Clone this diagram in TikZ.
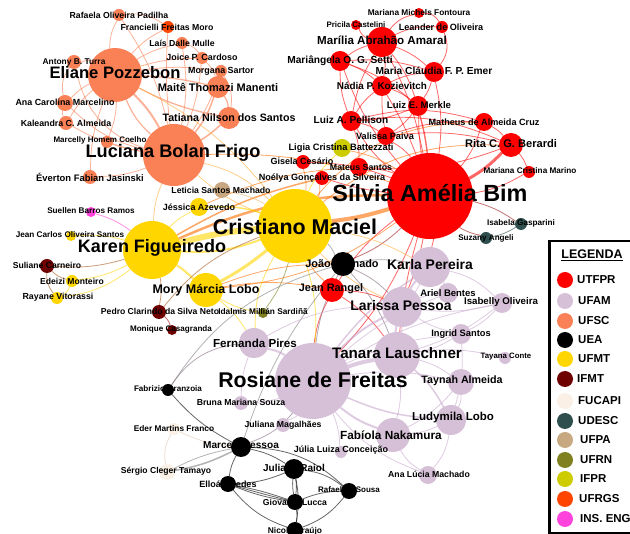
\documentclass[tikz,border=0pt]{standalone}
\usepackage{fontspec}
\setmainfont{Liberation Sans}
\pgfdeclarelayer{edgelayer}
\pgfsetlayers{edgelayer,main}
\definecolor{cUTFPR}{RGB}{255,0,0}
\definecolor{cUFAM}{RGB}{214,192,216}
\definecolor{cUFSC}{RGB}{250,128,86}
\definecolor{cUEA}{RGB}{0,0,0}
\definecolor{cUFMT}{RGB}{255,214,0}
\definecolor{cIFMT}{RGB}{110,0,0}
\definecolor{cFUCAPI}{RGB}{250,240,230}
\definecolor{cUDESC}{RGB}{47,79,79}
\definecolor{cUFPA}{RGB}{200,168,128}
\definecolor{cUFRN}{RGB}{128,128,32}
\definecolor{cIFPR}{RGB}{204,204,0}
\definecolor{cUFRGS}{RGB}{255,69,0}
\definecolor{cINS}{RGB}{255,68,221}
\definecolor{eOrange}{RGB}{255,110,0}
\definecolor{eYO}{RGB}{255,175,60}
\definecolor{ePurple}{RGB}{200,168,206}
\definecolor{eBrown}{RGB}{170,90,30}
\definecolor{eDark}{RGB}{160,20,20}
\definecolor{eGrayP}{RGB}{130,110,130}
\definecolor{eLin}{RGB}{225,200,180}
\definecolor{eTan}{RGB}{230,180,100}
\newcommand\gnode[5]{\node[nd=#5, minimum size=#4*2] (#1) at (#2,#3) {};}
\newcommand\glab[5]{\node[lab=#4] (#1-l) at (#2,#3) {#5};}
\tikzset{
 nd/.style={circle, fill=#1, draw=none, inner sep=0pt, outer sep=0pt},
 lab/.style={font=\bfseries\fontsize{#1}{#1}\selectfont, inner sep=0pt, text=black},
 ed/.style={line width=0.8pt, draw opacity=0.6},
 eR/.style={ed, draw=cUTFPR},
 eO/.style={ed, draw=eOrange},
 eY/.style={ed, draw=cUFMT},
 eYO/.style={ed, draw=eYO},
 eC/.style={ed, draw=cUFSC},
 eP/.style={ed, draw=ePurple},
 eK/.style={ed, draw=black},
 eB/.style={ed, draw=eBrown},
 eD/.style={ed, draw=eDark},
 eG/.style={ed, draw=eGrayP},
 legc/.style={circle, inner sep=0pt, minimum size=16pt, fill=#1},
 legt/.style={anchor=west, inner sep=0pt, font=\bfseries\fontsize{11.5}{11.5}\selectfont},
}
\begin{document}
\begin{tikzpicture}[x=1pt,y=-1pt]
\useasboundingbox (0,0) rectangle (630,534);
% ---------- nodes ----------
\gnode{rafaela}{119}{15}{6}{cUFSC}
\gnode{francielli}{168}{27}{6}{cUFRGS}
\gnode{lais}{182}{43}{6}{cUFSC}
\gnode{antony}{74}{62}{7}{cUFSC}
\gnode{joice}{202}{58}{6}{cUFSC}
\gnode{eliane}{115}{75}{27}{cUFSC}
\gnode{morgana}{221}{71}{6}{cUFSC}
\gnode{maite}{218}{87}{11}{cUFSC}
\gnode{anacarol}{65}{103}{8}{cUFSC}
\gnode{kaleandra}{66}{123}{7}{cUFSC}
\gnode{tatiana}{229}{118}{11}{cUFSC}
\gnode{marcelly}{107}{142}{6}{cUFSC}
\gnode{luciana}{174}{155}{31}{cUFSC}
\gnode{everton}{90}{177}{7}{cUFSC}
\gnode{marianam}{419}{13}{5}{cUTFPR}
\gnode{pricila}{356}{25}{5}{cUTFPR}
\gnode{leander}{442}{27}{6}{cUTFPR}
\gnode{marilia}{382}{42}{15}{cUTFPR}
\gnode{mariangela}{340}{61}{10}{cUTFPR}
\gnode{mclaudia}{434}{72}{10}{cUTFPR}
\gnode{nadia}{382}{86}{10}{cUTFPR}
\gnode{luize}{418}{106}{10}{cUTFPR}
\gnode{luiza}{351}{121}{10}{cUTFPR}
\gnode{matheus}{484}{122}{9}{cUTFPR}
\gnode{valissa}{386}{136}{9}{cUTFPR}
\gnode{rita}{511}{145}{12}{cUTFPR}
\gnode{ligia}{342}{148}{9}{cIFPR}
\gnode{gisela}{303}{162}{7}{cUTFPR}
\gnode{mateus}{359}{167}{9}{cUTFPR}
\gnode{noelya}{322}{178}{7}{cUTFPR}
\gnode{marianac}{529}{172}{6}{cUTFPR}
\gnode{silvia}{430}{196}{43}{cUTFPR}
\gnode{jeanr}{332}{290}{12}{cUTFPR}
\gnode{isabela}{521}{224}{6}{cUDESC}
\gnode{suzany}{486}{238}{6}{cUDESC}
\gnode{cristiano}{295}{226}{37}{cUFMT}
\gnode{karen}{152}{250}{29}{cUFMT}
\gnode{jessica}{199}{207}{9}{cUFMT}
\gnode{jeanc}{71}{236}{5}{cUFMT}
\gnode{edeizi}{72}{281}{6}{cUFMT}
\gnode{rayane}{57}{298}{6}{cUFMT}
\gnode{mory}{206}{290}{17}{cUFMT}
\gnode{suliane}{47}{266}{7}{cIFMT}
\gnode{pedro}{159}{312}{7}{cIFMT}
\gnode{monique}{172}{330}{5}{cIFMT}
\gnode{suellen}{91}{212}{5}{cINS}
\gnode{leticia}{222}{190}{8}{cUFPA}
\gnode{idalmis}{263}{313}{5}{cUFRN}
\gnode{joao}{343}{264}{12}{cUEA}
\gnode{fabrizio}{168}{390}{6}{cUEA}
\gnode{marcela}{241}{447}{10}{cUEA}
\gnode{juliar}{294}{469}{10}{cUEA}
\gnode{elloa}{228}{484}{8}{cUEA}
\gnode{giova}{295}{502}{8}{cUEA}
\gnode{rafaels}{349}{491}{8}{cUEA}
\gnode{nico}{295}{530}{8}{cUEA}
\gnode{eder}{174}{429}{6}{cFUCAPI}
\gnode{sergio}{167}{472}{8}{cFUCAPI}
\gnode{karla}{430}{267}{20}{cUFAM}
\gnode{ariel}{448}{293}{10}{cUFAM}
\gnode{isabelly}{502}{303}{10}{cUFAM}
\gnode{larissa}{402}{307}{20}{cUFAM}
\gnode{ingrid}{461}{334}{10}{cUFAM}
\gnode{tanara}{397}{355}{23}{cUFAM}
\gnode{tayana}{505}{358}{6}{cUFAM}
\gnode{rosiane}{313}{381}{38}{cUFAM}
\gnode{taynah}{461}{382}{13}{cUFAM}
\gnode{fernanda}{254}{343}{15}{cUFAM}
\gnode{bruna}{241}{403}{7}{cUFAM}
\gnode{julianam}{283}{425}{7}{cUFAM}
\gnode{julialc}{341}{452}{6}{cUFAM}
\gnode{fabiola}{393}{435}{17}{cUFAM}
\gnode{ludymila}{451}{420}{15}{cUFAM}
\gnode{analucia}{428}{475}{9}{cUFAM}
% ---------- edges ----------
\begin{pgfonlayer}{edgelayer}
\fill[white] (0,0) rectangle (630,534);
% UFSC
\draw[eC, line width=2pt] (eliane) to[bend left=8] (luciana);
\draw[eC, line width=1.2pt] (eliane) to[bend right=12] (luciana);
\draw[eC] (eliane) to[bend left=15] (rafaela);
\draw[eC] (eliane) to[bend left=10] (francielli);
\draw[eC] (eliane) to[bend left=10] (lais);
\draw[eC] (eliane) to[bend left=8] (joice);
\draw[eC] (eliane) to[bend left=8] (morgana);
\draw[eC, line width=1.3pt] (eliane) to[bend left=5] (maite);
\draw[eC, line width=1.3pt] (eliane) to[bend right=8] (tatiana);
\draw[eC] (eliane) to[bend right=15] (antony);
\draw[eC] (eliane) to[bend right=10] (anacarol);
\draw[eC] (eliane) to[bend right=10] (kaleandra);
\draw[eC] (eliane) to[bend left=10] (marcelly);
\draw[eC] (eliane) to[bend right=10] (everton);
\draw[eC] (luciana) to[bend right=10] (rafaela);
\draw[eC] (luciana) to[bend left=5] (francielli);
\draw[eC] (luciana) to[bend right=10] (lais);
\draw[eC] (luciana) to[bend right=8] (joice);
\draw[eC] (luciana) to[bend right=8] (morgana);
\draw[eC, line width=1.6pt] (luciana) to[bend right=10] (maite);
\draw[eC, line width=1.6pt] (luciana) to[bend right=5] (tatiana);
\draw[eC] (luciana) to[bend left=30] (antony);
\draw[eC] (luciana) to[bend left=15] (anacarol);
\draw[eC] (luciana) to[bend left=10] (kaleandra);
\draw[eC] (luciana) to[bend left=5] (marcelly);
\draw[eC] (luciana) to[bend left=10] (everton);
\draw[eC, line width=1.3pt] (maite) to[bend left=15] (tatiana);
\draw[eC] (maite) to[bend left=20] (morgana);
\draw[eC] (maite) to[bend right=15] (joice);
\draw[eC] (tatiana) to[bend right=20] (morgana);
\draw[eC] (antony) to[bend right=25] (anacarol);
\draw[eC] (anacarol) to[bend right=20] (kaleandra);
\draw[eC] (rafaela) to[bend left=20] (francielli);
\draw[eC] (lais) to[bend left=20] (joice);
\draw[eO] (luciana) to[bend left=10] (silvia);
\draw[eYO] (luciana) to[bend left=15] (cristiano);
\draw[eYO] (luciana) to[bend right=10] (cristiano);
\draw[eYO] (luciana) to[bend right=10] (karen);
\draw[eYO] (eliane) to[bend left=12] (cristiano);
% UTFPR
\draw[eR] (marilia) to[bend left=20] (pricila);
\draw[eR] (marilia) to[bend left=20] (marianam);
\draw[eR] (marilia) to[bend left=15] (leander);
\draw[eR] (marianam) to[bend left=30] (leander);
\draw[eR] (marilia) to[bend right=10] (mariangela);
\draw[eR] (marilia) to[bend left=10] (nadia);
\draw[eR] (marilia) to[bend left=10] (mclaudia);
\draw[eR] (marilia) to[bend left=10] (luize);
\draw[eR] (marilia) to[bend right=10] (luiza);
\draw[eR] (marilia) to[bend left=8] (silvia);
\draw[eR] (mariangela) to[bend left=10] (nadia);
\draw[eR] (mariangela) to[bend right=10] (luiza);
\draw[eR] (mariangela) to[bend left=10] (mclaudia);
\draw[eR] (mariangela) to[bend left=10] (luize);
\draw[eR] (mariangela) to[bend right=10] (silvia);
\draw[eR] (nadia) to[bend left=10] (mclaudia);
\draw[eR] (nadia) to[bend left=10] (luize);
\draw[eR] (nadia) to[bend right=10] (luiza);
\draw[eR] (nadia) to[bend left=5] (silvia);
\draw[eR] (nadia) to[bend right=5] (valissa);
\draw[eR] (mclaudia) to[bend left=10] (luize);
\draw[eR] (mclaudia) to[bend right=30] (leander);
\draw[eR] (mclaudia) to[bend left=10] (silvia);
\draw[eR] (luize) to[bend left=10] (luiza);
\draw[eR, line width=1.4pt] (luize) to[bend left=4] (silvia);
\draw[eR] (luize) to[bend right=4] (silvia);
\draw[eR] (luize) to[bend left=10] (valissa);
\draw[eR] (luiza) to[bend right=10] (silvia);
\draw[eR] (luiza) to[bend left=10] (valissa);
\draw[eR] (luiza) to[bend left=10] (mateus);
\draw[eR] (matheus) to[bend left=10] (silvia);
\draw[eR] (matheus) to[bend left=10] (rita);
\draw[eR] (matheus) to[bend right=10] (valissa);
\draw[eR] (matheus) to[bend right=15] (luiza);
\draw[eR, line width=3pt] (rita) to[bend left=8] (silvia);
\draw[eR] (rita) to[bend left=10] (marianac);
\draw[eR] (rita) to[bend right=10] (valissa);
\draw[eR] (rita) to[bend left=12] (mateus);
\draw[eR] (rita) to[bend right=15] (luiza);
\draw[eR] (marianac) to[bend left=10] (silvia);
\draw[eR] (valissa) to[bend left=10] (silvia);
\draw[eR] (mateus) to[bend left=10] (silvia);
\draw[eR] (gisela) to[bend left=10] (silvia);
\draw[eR] (noelya) to[bend right=5] (silvia);
\draw[eO] (ligia) to[bend left=10] (silvia);
\draw[eD] (silvia) to[bend left=10] (isabela);
\draw[eD] (silvia) to[bend right=10] (suzany);
\draw[ed, draw=cUDESC] (isabela) to[bend left=10] (suzany);
\draw[eR] (silvia) to[bend left=5] (karla);
\draw[eR] (silvia) to[bend left=5] (larissa);
\draw[eR] (silvia) to[bend right=10] (jeanr);
\draw[eD] (silvia) to[bend left=10] (joao);
\draw[eR] (silvia) to[bend right=5] (tanara);
\draw[eR] (silvia) to[bend left=10] (rosiane);
\draw[eR] (jeanr) to[bend right=10] (rosiane);
\draw[eR] (jeanr) to[bend left=10] (tanara);
\draw[eR] (jeanr) to[bend left=10] (larissa);
% UTFPR-UFMT
\draw[eO, line width=4pt] (silvia) to[bend left=5] (cristiano);
\draw[eO, line width=2.5pt] (silvia) to[bend right=12] (karen);
\draw[eO] (silvia) to[bend left=15] (mory);
\draw[eO] (matheus) to[bend right=25] (cristiano);
\draw[eO] (rita) to[bend right=20] (cristiano);
\draw[eO, line width=1.5pt] (noelya) to[bend right=8] (karen);
\draw[eO] (gisela) to[bend left=10] (cristiano);
\draw[eO] (noelya) to[bend left=10] (cristiano);
\draw[eY] (ligia) to[bend right=10] (cristiano);
\draw[eO] (jeanr) to[bend left=10] (cristiano);
\draw[eO] (jeanr) to[bend right=10] (mory);
\draw[eO] (mateus) to[bend right=10] (jessica);
% UFMT
\draw[eY, line width=6pt] (cristiano) to[bend right=5] (karen);
\draw[eY, line width=2pt] (cristiano) to[bend left=12] (karen);
\draw[eY, line width=3pt] (cristiano) to[bend left=5] (mory);
\draw[eY, line width=1.5pt] (cristiano) to[bend right=10] (jessica);
\draw[eY] (karen) to[bend left=10] (jessica);
\draw[ed, draw=eTan] (cristiano) to[bend right=10] (leticia);
\draw[eY] (karen) to[bend right=10] (jeanc);
\draw[eY] (karen) to[bend left=10] (edeizi);
\draw[eY] (karen) to[bend left=15] (rayane);
\draw[eB] (karen) to[bend left=10] (suliane);
\draw[ed, draw=cINS] (karen) to[bend right=10] (suellen);
\draw[eY, line width=2pt] (karen) to[bend left=5] (mory);
\draw[eB] (karen) to[bend left=10] (pedro);
\draw[eD] (pedro) to[bend left=15] (monique);
\draw[eB] (pedro) to[bend left=15] (cristiano);
\draw[eB] (suliane) to[bend right=15] (edeizi);
\draw[eB] (suliane) to[bend right=20] (rayane);
\draw[eY] (edeizi) to[bend left=20] (rayane);
\draw[ed, draw=cUFRN] (cristiano) to[bend left=10] (idalmis);
\draw[eY] (cristiano) to[bend right=15] (fernanda);
\draw[eY] (mory) to[bend left=10] (fernanda);
\draw[eY] (cristiano) to[bend left=10] (rosiane);
\draw[eYO] (cristiano) to[bend left=10] (karla);
\draw[eYO] (cristiano) to[bend right=10] (larissa);
\draw[ed, draw=gray] (cristiano) to[bend left=10] (joao);
\draw[eO] (mory) to[bend left=10] (joao);
\draw[eY] (mory) to[bend right=10] (idalmis);
\draw[ed, draw=gray] (joao) to[bend right=20] (fabrizio);
\draw[ed, draw=gray] (joao) to[bend right=10] (marcela);
\draw[eG] (joao) to[bend right=10] (rosiane);
\draw[eG] (joao) to[bend left=10] (larissa);
\draw[eG] (joao) to[bend left=10] (karla);
\draw[eG] (joao) to[bend left=10] (tanara);
% UFAM
\draw[eP, line width=4pt] (rosiane) to[bend left=5] (tanara);
\draw[eP, line width=2pt] (rosiane) to[bend left=10] (larissa);
\draw[eP, line width=1.5pt] (rosiane) to[bend left=10] (karla);
\draw[eP, line width=2pt] (rosiane) to[bend right=10] (fernanda);
\draw[eP, line width=2pt] (rosiane) to[bend right=10] (fabiola);
\draw[eP, line width=1.5pt] (rosiane) to[bend right=10] (ludymila);
\draw[eP] (rosiane) to[bend left=10] (taynah);
\draw[eP] (rosiane) to[bend left=10] (bruna);
\draw[eP] (rosiane) to[bend left=10] (julianam);
\draw[eP] (rosiane) to[bend left=10] (julialc);
\draw[eP] (rosiane) to[bend right=15] (analucia);
\draw[eP] (rosiane) to[bend left=10] (ingrid);
\draw[eP] (rosiane) to[bend left=10] (ariel);
\draw[eP] (rosiane) to[bend left=10] (isabelly);
\draw[eP, line width=2pt] (tanara) to[bend left=10] (larissa);
\draw[eP] (tanara) to[bend left=10] (karla);
\draw[eP] (tanara) to[bend left=10] (fabiola);
\draw[eP, line width=1.5pt] (tanara) to[bend left=10] (ludymila);
\draw[eP] (tanara) to[bend left=10] (taynah);
\draw[eP] (tanara) to[bend right=10] (ingrid);
\draw[eP] (tanara) to[bend left=10] (tayana);
\draw[eP] (tanara) to[bend right=10] (isabelly);
\draw[eP, line width=2pt] (larissa) to[bend left=10] (karla);
\draw[eP] (larissa) to[bend left=10] (ariel);
\draw[eP] (larissa) to[bend right=10] (isabelly);
\draw[eP] (larissa) to[bend right=10] (ingrid);
\draw[eP] (larissa) to[bend right=15] (fernanda);
\draw[eP] (karla) to[bend left=10] (ariel);
\draw[eP] (karla) to[bend left=15] (isabelly);
\draw[eP] (ludymila) to[bend right=15] (taynah);
\draw[eP] (ludymila) to[bend left=10] (fabiola);
\draw[eP] (ludymila) to[bend left=15] (analucia);
\draw[eP] (fabiola) to[bend right=15] (analucia);
\draw[eP] (fabiola) to[bend right=10] (taynah);
\draw[eP] (ingrid) to[bend right=10] (isabelly);
\draw[eP] (ingrid) to[bend left=10] (ludymila);
\draw[eP] (fernanda) to[bend right=10] (bruna);
\draw[eG] (rosiane) to[bend left=15] (marcela);
\draw[eG] (fabrizio) to[bend left=25] (fernanda);
% UEA
\draw[eK] (marcela) to[bend left=10] (fabrizio);
\draw[ed, draw=eLin] (marcela) to[bend left=10] (eder);
\draw[ed, draw=gray, line width=1.5pt] (marcela) to[bend left=8] (sergio);
\draw[ed, draw=gray] (marcela) to[bend right=8] (sergio);
\draw[eK] (marcela) to[bend left=10] (juliar);
\draw[eK] (marcela) to[bend right=10] (elloa);
\draw[eK] (marcela) to[bend left=20] (rafaels);
\draw[eK] (juliar) to[bend left=10] (elloa);
\draw[eK] (juliar) to[bend left=8] (giova);
\draw[eK] (juliar) to[bend right=8] (giova);
\draw[eK] (juliar) to[bend left=15] (rafaels);
\draw[eK] (juliar) to[bend left=10] (nico);
\draw[eK] (elloa) to[bend left=4] (giova);
\draw[eK] (elloa) to[bend right=6] (giova);
\draw[eK] (elloa) to[bend right=1] (giova);
\draw[eK] (elloa) to[bend right=15] (nico);
\draw[eK] (giova) to[bend left=10] (rafaels);
\draw[eK] (giova) to[bend left=10] (nico);
\draw[eK] (rafaels) to[bend left=15] (nico);
\draw[ed, draw=eLin] (eder) to[bend right=20] (sergio);
\end{pgfonlayer}
% ---------- labels ----------
\glab{rafaela}{119}{15}{8.7}{Rafaela Oliveira Padilha}
\glab{francielli}{167}{27}{8.7}{Francielli Freitas Moro}
\glab{lais}{182}{43}{8.7}{Laís Dalle Mulle}
\glab{antony}{74}{62}{8.4}{Antony B. Turra}
\glab{joice}{202}{57}{8.9}{Joice P. Cardoso}
\glab{eliane}{115}{73}{16.6}{Eliane Pozzebon}
\glab{morgana}{221}{71}{8.9}{Morgana Sartor}
\glab{maite}{218}{87}{11}{Maitê Thomazi Manenti}
\glab{anacarol}{65}{102}{8.9}{Ana Carolina Marcelino}
\glab{kaleandra}{66}{123}{8.8}{Kaleandra C. Almeida}
\glab{tatiana}{229}{118}{10.7}{Tatiana Nilson dos Santos}
\glab{marcelly}{100}{140}{8}{Marcelly Homem Coelho}
\glab{luciana}{173}{153}{18.2}{Luciana Bolan Frigo}
\glab{everton}{90}{177}{9.4}{Éverton Fabian Jasinski}
\glab{marianam}{419}{13}{8.3}{Mariana Michels Fontoura}
\glab{pricila}{356}{25}{7.9}{Pricila Castelini}
\glab{leander}{441}{27}{9.1}{Leander de Oliveira}
\glab{marilia}{382}{40}{11.6}{Marília Abrahão Amaral}
\glab{mariangela}{340}{61}{10.2}{Mariângela O. G. Setti}
\glab{mclaudia}{434}{71}{10.2}{Maria Cláudia F. P. Emer}
\glab{nadia}{382}{86}{9.9}{Nádia P. Kozievitch}
\glab{luize}{419}{105}{9.6}{Luiz E. Merkle}
\glab{luiza}{351}{120}{10.1}{Luiz A. Pellison}
\glab{matheus}{484}{122}{9.1}{Matheus de Almeida Cruz}
\glab{valissa}{385}{136}{9.2}{Valissa Paiva}
\glab{rita}{511}{144}{11.1}{Rita C. G. Berardi}
\glab{ligia}{341}{148}{9.3}{Ligia Cristina Battezzati}
\glab{gisela}{302}{161}{9}{Gisela Cesário}
\glab{mateus}{361}{167}{8.8}{Mateus Santos}
\glab{noelya}{322}{178}{9.1}{Noélya Gonçalves da Silveira}
\glab{marianac}{530}{171}{8.2}{Mariana Cristina Marino}
\glab{silvia}{430}{193}{23.4}{Sílvia Amélia Bim}
\glab{jeanr}{331}{289}{10.9}{Jean Rangel}
\glab{isabela}{521}{223}{8.2}{Isabela Gasparini}
\glab{suzany}{486}{238}{8.1}{Suzany Angeli}
\glab{cristiano}{295}{227}{21.4}{Cristiano Maciel}
\glab{karen}{152}{248}{18}{Karen Figueiredo}
\glab{jessica}{199}{207}{9}{Jéssica Azevedo}
\glab{jeanc}{70}{235}{8.2}{Jean Carlos Oliveira Santos}
\glab{edeizi}{72}{281}{8.6}{Edeizi Monteiro}
\glab{rayane}{58}{297}{8.8}{Rayane Vitorassi}
\glab{mory}{206}{290}{12.5}{Mory Márcia Lobo}
\glab{suliane}{47}{265}{8.6}{Suliane Carneiro}
\glab{pedro}{160}{311}{8.6}{Pedro Clarindo da Silva Neto}
\glab{monique}{171}{329}{8.1}{Monique Casagranda}
\glab{suellen}{91}{211}{8.2}{Suellen Barros Ramos}
\glab{leticia}{221}{190}{8.7}{Leticia Santos Machado}
\glab{idalmis}{263}{311}{8.3}{Idalmis Millián Sardiñã}
\glab{joao}{342}{264}{10.9}{João Granado}
\glab{fabrizio}{168}{389}{8.1}{Fabrizio Granzoia}
\glab{marcela}{241}{445}{10.1}{Marcela Pessoa}
\glab{juliar}{294}{468}{10}{Juliana Raiol}
\glab{elloa}{228}{484}{9}{Elloá Guedes}
\glab{giova}{295}{502}{8.6}{Giovanni Lucca}
\glab{rafaels}{349}{490}{8}{Rafael de Sousa}
\glab{nico}{295}{531}{8.4}{Nicole Araújo}
\glab{eder}{174}{429}{8.3}{Eder Martins Franco}
\glab{sergio}{166}{471}{8.6}{Sérgio Cleger Tamayo}
\glab{karla}{430}{265}{13.9}{Karla Pereira}
\glab{ariel}{448}{293}{9.5}{Ariel Bentes}
\glab{isabelly}{501}{302}{9.7}{Isabelly Oliveira}
\glab{larissa}{401}{306}{13.9}{Larissa Pessoa}
\glab{ingrid}{461}{334}{9.3}{Ingrid Santos}
\glab{tanara}{397}{353}{15.2}{Tanara Lauschner}
\glab{tayana}{506}{357}{7.8}{Tayana Conte}
\glab{rosiane}{313}{380}{21.3}{Rosiane de Freitas}
\glab{taynah}{462}{381}{10.7}{Taynah Almeida}
\glab{fernanda}{255}{343}{11.6}{Fernanda Pires}
\glab{bruna}{241}{402}{8.7}{Bruna Mariana Souza}
\glab{julianam}{283}{425}{8.7}{Juliana Magalhães}
\glab{julialc}{341}{450}{9}{Júlia Luiza Conceição}
\glab{fabiola}{391}{435}{11.8}{Fabíola Nakamura}
\glab{ludymila}{453}{418}{11.5}{Ludymila Lobo}
\glab{analucia}{429}{474}{8.7}{Ana Lúcia Machado}
% ---------- legend ----------
\node[draw, line width=2.5pt, inner sep=0pt, minimum width=110pt, minimum height=292pt, anchor=north west] (legbox) at (548,240) {};
\node[font=\bfseries\fontsize{12.5}{12.5}\selectfont, inner sep=0pt] (legtitle) at (592,255) {\underline{LEGENDA}};
\foreach \i/\c/\t/\yy/\xx in {1/cUTFPR/UTFPR/280/577, 2/cUFAM/UFAM/301/578, 3/cUFSC/UFSC/321/578, 4/cUEA/UEA/340/578, 5/cUFMT/UFMT/359/578, 6/cIFMT/IFMT/379/577, 7/cFUCAPI/FUCAPI/401/578, 8/cUDESC/UDESC/421/578, 9/cUFPA/UFPA/440/580, 10/cUFRN/UFRN/460/580, 11/cIFPR/IFPR/479/580, 12/cUFRGS/UFRGS/499/579, 13/cINS/INS. ENG/519/580} {
  \node[legc=\c] (legc\i) at (565,\yy) {};
  \node[legt] (legt\i) at (\xx,\yy) {\t};
}
\end{tikzpicture}
\end{document}
